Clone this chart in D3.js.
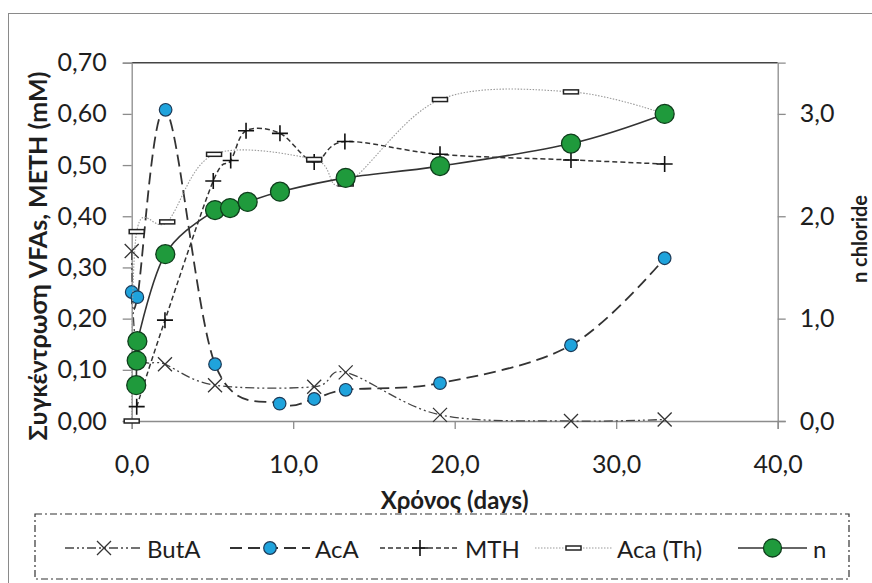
<!DOCTYPE html>
<html>
<head>
<meta charset="utf-8">
<script src="https://cdn.jsdelivr.net/npm/d3@7"></script>
<style>
  html, body { margin: 0; padding: 0; background: #fff; }
  svg { display: block; font-family: Lato, "Open Sans", sans-serif; }
</style>
</head>
<body>
<svg id="chart" width="872" height="583"></svg>
<script>
// Sampling times (days) and measured values for each series
const butaDays   = [0, 0.35, 2.06, 5.16, 11.3, 13.25, 19.09, 27.2, 33.0];
const butaValues = [0.332, 0.135, 0.111, 0.070, 0.067, 0.095, 0.012, 0.0, 0.003];

const acaDays   = [0, 0.35, 2.1, 5.16, 9.16, 11.3, 13.25, 19.09, 27.2, 33.0];
const acaValues = [0.252, 0.242, 0.608, 0.111, 0.034, 0.043, 0.061, 0.074, 0.148, 0.318];

const mthDays   = [0.31, 2.06, 5.05, 6.13, 7.08, 9.18, 11.3, 13.2, 19.09, 27.2, 33.0];
const mthValues = [0.028, 0.197, 0.469, 0.509, 0.567, 0.562, 0.506, 0.546, 0.521, 0.510, 0.502];

const acaThDays   = [0, 0.31, 2.2, 5.1, 11.3, 13.25, 19.09, 27.2, 33.0];
const acaThValues = [0.0, 0.370, 0.389, 0.521, 0.511, 0.463, 0.628, 0.643, 0.600];

// n chloride, plotted on the secondary axis
const nDays   = [0.28, 0.31, 0.35, 2.08, 5.16, 6.09, 7.18, 9.18, 13.25, 19.09, 27.2, 33.0];
const nValues = [0.35, 0.59, 0.78, 1.63, 2.06, 2.08, 2.14, 2.24, 2.375, 2.49, 2.71, 3.0];

const xTicks      = [0, 10, 20, 30, 40];
const yLeftTicks  = [0, 0.1, 0.2, 0.3, 0.4, 0.5, 0.6, 0.7];
const yRightTicks = [0, 1, 2, 3];

const legendLabels = ["ButA", "AcA", "MTH", "Aca (Th)", "n"];

const svg = d3.select("#chart");
const fmt = (dec) => (v) => v.toFixed(dec).replace(".", ",");

const plot = { left: 131.7, right: 777.7, top: 62.7, bottom: 421 };

const x  = d3.scaleLinear().domain([0, 40]).range([plot.left, plot.right]);
const yL = d3.scaleLinear().domain([0, 0.7]).range([plot.bottom, plot.top]);
const yR = d3.scaleLinear().domain([0, 3.5]).range([plot.bottom, plot.top]);

const textColor = "#1e1e1e";

// Outer chart frame
svg.append("rect")
  .attr("x", 8.5).attr("y", 13.5).attr("width", 880).attr("height", 600)
  .attr("fill", "none").attr("stroke", "#8a8a8a").attr("stroke-width", 1);

// Plot area top edge
svg.append("line")
  .attr("x1", plot.left).attr("x2", plot.right)
  .attr("y1", plot.top).attr("y2", plot.top)
  .attr("stroke", "#444").attr("stroke-width", 1.6);

const axisColor = "#8c8c8c";
const tickFont = 25;

// Left axis
const gL = svg.append("g").attr("transform", `translate(${plot.left},0)`)
  .call(d3.axisLeft(yL).tickValues(yLeftTicks).tickFormat(fmt(2)).tickSize(9).tickPadding(16));
// Right axis
const gR = svg.append("g").attr("transform", `translate(${plot.right},0)`)
  .call(d3.axisRight(yR).tickValues(yRightTicks).tickFormat(fmt(1)).tickSize(8).tickPadding(14));
// Bottom axis
const gB = svg.append("g").attr("transform", `translate(0,${plot.bottom})`)
  .call(d3.axisBottom(x).tickValues(xTicks).tickFormat(fmt(1)).tickSize(8).tickPadding(26));

[gL, gR, gB].forEach(g => {
  g.select(".domain").attr("stroke", axisColor).attr("stroke-width", 1.3);
  g.selectAll(".tick line").attr("stroke", axisColor).attr("stroke-width", 1.3);
  g.selectAll(".tick text").attr("fill", textColor).attr("font-size", tickFont)
    .attr("font-family", "Lato, 'Open Sans', sans-serif");
});

// Axis titles
svg.append("text")
  .attr("transform", "translate(37,256) rotate(-90)")
  .attr("text-anchor", "middle").attr("dominant-baseline", "central")
  .attr("font-size", 25).attr("font-weight", "bold").attr("fill", textColor)
  .text("Συγκέντρωση VFAs, METH (mM)");

svg.append("text")
  .attr("transform", "translate(867,239) rotate(-90)")
  .attr("text-anchor", "middle")
  .attr("font-size", 20).attr("font-weight", "bold").attr("fill", textColor)
  .text("n chloride");

svg.append("text")
  .attr("x", (plot.left + plot.right) / 2).attr("y", 499)
  .attr("text-anchor", "middle").attr("dominant-baseline", "central")
  .attr("font-size", 24).attr("font-weight", "bold").attr("fill", textColor)
  .text("Χρόνος (days)");

// Series definitions (styles)
const series = [
  { name: legendLabels[0], days: butaDays, values: butaValues, y: yL,
    stroke: "#444", width: 1.3, dash: "9,3,2,3,2,3", marker: "cross" },
  { name: legendLabels[1], days: acaDays, values: acaValues, y: yL,
    stroke: "#333", width: 1.8, dash: "12,6", marker: "blue" },
  { name: legendLabels[2], days: mthDays, values: mthValues, y: yL,
    stroke: "#333", width: 1.5, dash: "5,3", marker: "plus" },
  { name: legendLabels[3], days: acaThDays, values: acaThValues, y: yL,
    stroke: "#9a9a9a", width: 1.1, dash: "1.5,1.5", marker: "rect" },
  { name: legendLabels[4], days: nDays, values: nValues, y: yR,
    stroke: "#333", width: 1.6, dash: null, marker: "green" }
];

const curve = d3.curveCardinal.tension(0);

function drawMarker(g, type, cx, cy, scale = 1) {
  if (type === "cross") {
    const s = 7 * scale;
    g.append("path")
      .attr("d", `M${cx - s},${cy - s}L${cx + s},${cy + s}M${cx - s},${cy + s}L${cx + s},${cy - s}`)
      .attr("stroke", "#333").attr("stroke-width", 1.3).attr("fill", "none");
  } else if (type === "plus") {
    const s = 8 * scale;
    g.append("path")
      .attr("d", `M${cx - s},${cy}L${cx + s},${cy}M${cx},${cy - s}L${cx},${cy + s}`)
      .attr("stroke", "#111").attr("stroke-width", 1.6).attr("fill", "none");
  } else if (type === "blue") {
    g.append("circle").attr("cx", cx).attr("cy", cy).attr("r", 6.3 * scale)
      .attr("fill", "#1fa3dc").attr("stroke", "#1d3a57").attr("stroke-width", 1.2);
  } else if (type === "green") {
    g.append("circle").attr("cx", cx).attr("cy", cy).attr("r", 9.5 * scale)
      .attr("fill", "#1f9a3c").attr("stroke", "#0f3d1c").attr("stroke-width", 1.3);
  } else if (type === "rect") {
    g.append("rect").attr("x", cx - 7.5 * scale).attr("y", cy - 2).attr("width", 15 * scale).attr("height", 4)
      .attr("fill", "#fff").attr("stroke", "#222").attr("stroke-width", 1.5);
  }
}

const seriesLayer = svg.append("g");
series.forEach(s => {
  const pts = s.days.map((d, i) => [x(d), s.y(s.values[i])]);
  const g = seriesLayer.append("g");
  g.append("path")
    .attr("d", d3.line().curve(curve)(pts))
    .attr("fill", "none").attr("stroke", s.stroke).attr("stroke-width", s.width)
    .attr("stroke-dasharray", s.dash);
  pts.forEach(p => drawMarker(g, s.marker, p[0], p[1]));
});

// Legend
svg.append("rect")
  .attr("x", 35).attr("y", 514).attr("width", 814).attr("height", 65)
  .attr("fill", "none").attr("stroke", "#333").attr("stroke-width", 1.2)
  .attr("stroke-dasharray", "7,3,2,3");

const legendItems = [
  { x1: 65, x2: 143, tx: 147 },
  { x1: 230, x2: 310, tx: 315 },
  { x1: 380, x2: 460, tx: 465 },
  { x1: 535, x2: 612, tx: 617 },
  { x1: 738, x2: 807, tx: 813 }
];
const ly = 548;
series.forEach((s, i) => {
  const it = legendItems[i];
  const g = svg.append("g");
  g.append("line").attr("x1", it.x1).attr("x2", it.x2).attr("y1", ly).attr("y2", ly)
    .attr("stroke", s.stroke).attr("stroke-width", s.width).attr("stroke-dasharray", s.dash);
  drawMarker(g, s.marker, (it.x1 + it.x2) / 2, ly, s.marker === "green" ? 0.95 : 1);
  g.append("text").attr("x", it.tx).attr("y", ly).attr("dominant-baseline", "central")
    .attr("font-size", 24).attr("fill", textColor).text(s.name);
});
</script>
</body>
</html>
